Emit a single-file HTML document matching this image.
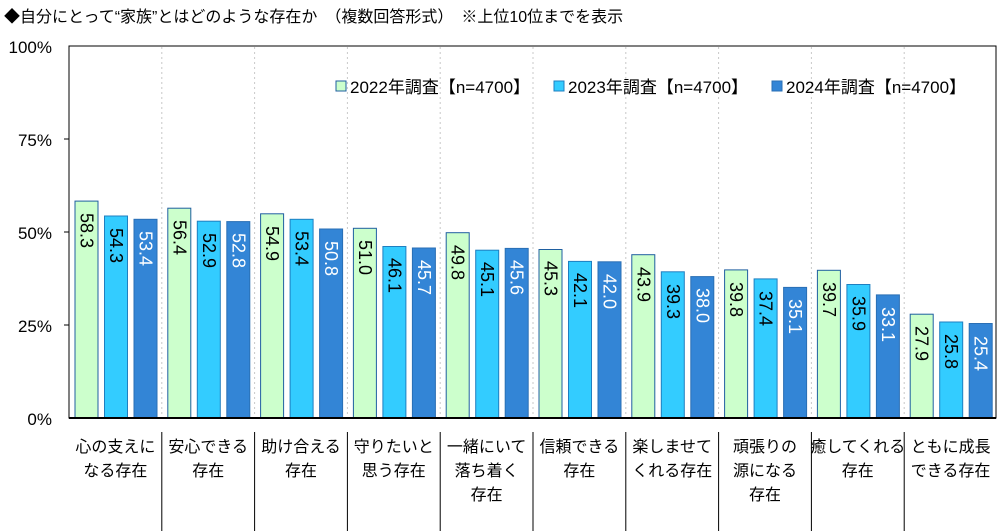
<!DOCTYPE html>
<html><head><meta charset="utf-8"><style>
html,body{margin:0;padding:0;background:#fff;}
svg{display:block;font-family:"Liberation Sans","Noto Sans CJK JP",sans-serif;}
</style></head><body>
<svg width="1000" height="531" viewBox="0 0 1000 531" xmlns="http://www.w3.org/2000/svg">
<rect width="1000" height="531" fill="#fff"/>
<text x="4" y="22" font-size="16" fill="#000">◆自分にとって“家族”とはどのような存在か　（複数回答形式）　※上位10位までを表示</text>
<g font-size="17" fill="#000" text-anchor="end">
<text x="52" y="53">100%</text>
<text x="52" y="146">75%</text>
<text x="52" y="239">50%</text>
<text x="52" y="332">25%</text>
<text x="52" y="425">0%</text>
</g>
<g stroke="#c8c8c8" stroke-width="1" stroke-dasharray="2,3">
<line x1="161.8" y1="47" x2="161.8" y2="417"/><line x1="254.6" y1="47" x2="254.6" y2="417"/><line x1="347.4" y1="47" x2="347.4" y2="417"/><line x1="440.2" y1="47" x2="440.2" y2="417"/><line x1="533" y1="47" x2="533" y2="417"/><line x1="625.8" y1="47" x2="625.8" y2="417"/><line x1="718.6" y1="47" x2="718.6" y2="417"/><line x1="811.4" y1="47" x2="811.4" y2="417"/><line x1="904.2" y1="47" x2="904.2" y2="417"/>
</g>
<g stroke="#000" stroke-width="1">
<line x1="161.8" y1="432" x2="161.8" y2="531"/><line x1="254.6" y1="432" x2="254.6" y2="531"/><line x1="347.4" y1="432" x2="347.4" y2="531"/><line x1="440.2" y1="432" x2="440.2" y2="531"/><line x1="533" y1="432" x2="533" y2="531"/><line x1="625.8" y1="432" x2="625.8" y2="531"/><line x1="718.6" y1="432" x2="718.6" y2="531"/><line x1="811.4" y1="432" x2="811.4" y2="531"/><line x1="904.2" y1="432" x2="904.2" y2="531"/>
</g>
<rect x="69" y="46" width="927" height="372" fill="none" stroke="#000" stroke-width="1"/>
<g stroke="#000" stroke-width="1"><line x1="64" y1="139" x2="69" y2="139"/><line x1="64" y1="232" x2="69" y2="232"/><line x1="64" y1="325" x2="69" y2="325"/></g>

<defs>
<style>
.a{fill:#ccffcc;stroke:#1f5fa0;stroke-width:1}
.b{fill:#33ccff;stroke:#1f7fc0;stroke-width:1}
.c{fill:#3385d6;stroke:#2a6fb5;stroke-width:1}
.t{font-size:18px;fill:#000}
.w{font-size:18px;fill:#fff}
</style>
</defs>

<g transform="translate(69,0)">
<rect class="a" x="6" y="201.1" width="23" height="216.9"/><rect class="b" x="35.5" y="216" width="23" height="202"/><rect class="c" x="65" y="219.3" width="23" height="198.7"/>
<text class="t" transform="translate(17.5,213) rotate(90)" dominant-baseline="central">58.3</text>
<text class="t" transform="translate(47,228) rotate(90)" dominant-baseline="central">54.3</text>
<text class="w" transform="translate(76.5,231) rotate(90)" dominant-baseline="central">53.4</text>
</g>
<g transform="translate(161.8,0)">
<rect class="a" x="6" y="208.2" width="23" height="209.8"/><rect class="b" x="35.5" y="221.2" width="23" height="196.8"/><rect class="c" x="65" y="221.6" width="23" height="196.4"/>
<text class="t" transform="translate(17.5,220) rotate(90)" dominant-baseline="central">56.4</text>
<text class="t" transform="translate(47,233) rotate(90)" dominant-baseline="central">52.9</text>
<text class="w" transform="translate(76.5,233) rotate(90)" dominant-baseline="central">52.8</text>
</g>
<g transform="translate(254.6,0)">
<rect class="a" x="6" y="213.8" width="23" height="204.2"/><rect class="b" x="35.5" y="219.3" width="23" height="198.7"/><rect class="c" x="65" y="229" width="23" height="189"/>
<text class="t" transform="translate(17.5,226) rotate(90)" dominant-baseline="central">54.9</text>
<text class="t" transform="translate(47,231) rotate(90)" dominant-baseline="central">53.4</text>
<text class="w" transform="translate(76.5,241) rotate(90)" dominant-baseline="central">50.8</text>
</g>
<g transform="translate(347.4,0)">
<rect class="a" x="6" y="228.3" width="23" height="189.7"/><rect class="b" x="35.5" y="246.5" width="23" height="171.5"/><rect class="c" x="65" y="248" width="23" height="170"/>
<text class="t" transform="translate(17.5,240) rotate(90)" dominant-baseline="central">51.0</text>
<text class="t" transform="translate(47,258) rotate(90)" dominant-baseline="central">46.1</text>
<text class="w" transform="translate(76.5,260) rotate(90)" dominant-baseline="central">45.7</text>
</g>
<g transform="translate(440.2,0)">
<rect class="a" x="6" y="232.7" width="23" height="185.3"/><rect class="b" x="35.5" y="250.2" width="23" height="167.8"/><rect class="c" x="65" y="248.4" width="23" height="169.6"/>
<text class="t" transform="translate(17.5,245) rotate(90)" dominant-baseline="central">49.8</text>
<text class="t" transform="translate(47,262) rotate(90)" dominant-baseline="central">45.1</text>
<text class="w" transform="translate(76.5,260) rotate(90)" dominant-baseline="central">45.6</text>
</g>
<g transform="translate(533,0)">
<rect class="a" x="6" y="249.5" width="23" height="168.5"/><rect class="b" x="35.5" y="261.4" width="23" height="156.6"/><rect class="c" x="65" y="261.8" width="23" height="156.2"/>
<text class="t" transform="translate(17.5,261) rotate(90)" dominant-baseline="central">45.3</text>
<text class="t" transform="translate(47,273) rotate(90)" dominant-baseline="central">42.1</text>
<text class="w" transform="translate(76.5,274) rotate(90)" dominant-baseline="central">42.0</text>
</g>
<g transform="translate(625.8,0)">
<rect class="a" x="6" y="254.7" width="23" height="163.3"/><rect class="b" x="35.5" y="271.8" width="23" height="146.2"/><rect class="c" x="65" y="276.6" width="23" height="141.4"/>
<text class="t" transform="translate(17.5,267) rotate(90)" dominant-baseline="central">43.9</text>
<text class="t" transform="translate(47,284) rotate(90)" dominant-baseline="central">39.3</text>
<text class="w" transform="translate(76.5,288) rotate(90)" dominant-baseline="central">38.0</text>
</g>
<g transform="translate(718.6,0)">
<rect class="a" x="6" y="269.9" width="23" height="148.1"/><rect class="b" x="35.5" y="278.9" width="23" height="139.1"/><rect class="c" x="65" y="287.4" width="23" height="130.6"/>
<text class="t" transform="translate(17.5,282) rotate(90)" dominant-baseline="central">39.8</text>
<text class="t" transform="translate(47,291) rotate(90)" dominant-baseline="central">37.4</text>
<text class="w" transform="translate(76.5,299) rotate(90)" dominant-baseline="central">35.1</text>
</g>
<g transform="translate(811.4,0)">
<rect class="a" x="6" y="270.3" width="23" height="147.7"/><rect class="b" x="35.5" y="284.5" width="23" height="133.5"/><rect class="c" x="65" y="294.9" width="23" height="123.1"/>
<text class="t" transform="translate(17.5,282) rotate(90)" dominant-baseline="central">39.7</text>
<text class="t" transform="translate(47,296) rotate(90)" dominant-baseline="central">35.9</text>
<text class="w" transform="translate(76.5,307) rotate(90)" dominant-baseline="central">33.1</text>
</g>
<g transform="translate(904.2,0)">
<rect class="a" x="6" y="314.2" width="23" height="103.8"/><rect class="b" x="35.5" y="322" width="23" height="96"/><rect class="c" x="65" y="323.5" width="23" height="94.5"/>
<text class="t" transform="translate(17.5,326) rotate(90)" dominant-baseline="central">27.9</text>
<text class="t" transform="translate(47,334) rotate(90)" dominant-baseline="central">25.8</text>
<text class="w" transform="translate(76.5,336) rotate(90)" dominant-baseline="central">25.4</text>
</g>

<line x1="69" y1="418" x2="996" y2="418" stroke="#000" stroke-width="2"/>

<g font-size="16" fill="#000" text-anchor="middle">
<text x="115.4" y="452">心の支えに</text><text x="115.4" y="476">なる存在</text>
<text x="208.2" y="452">安心できる</text><text x="208.2" y="476">存在</text>
<text x="301" y="452">助け合える</text><text x="301" y="476">存在</text>
<text x="393.8" y="452">守りたいと</text><text x="393.8" y="476">思う存在</text>
<text x="486.6" y="452">一緒にいて</text><text x="486.6" y="476">落ち着く</text><text x="486.6" y="500">存在</text>
<text x="579.4" y="452">信頼できる</text><text x="579.4" y="476">存在</text>
<text x="672.2" y="452">楽しませて</text><text x="672.2" y="476">くれる存在</text>
<text x="765" y="452">頑張りの</text><text x="765" y="476">源になる</text><text x="765" y="500">存在</text>
<text x="857.8" y="452">癒してくれる</text><text x="857.8" y="476">存在</text>
<text x="950.6" y="452">ともに成長</text><text x="950.6" y="476">できる存在</text>
</g>

<rect x="336" y="81" width="10" height="10" fill="#ccffcc" stroke="#1f5fa0" stroke-width="1"/>
<text x="350" y="93" font-size="17" fill="#000">2022年調査【n=4700】</text>
<rect x="554" y="81" width="10" height="10" fill="#33ccff" stroke="#1f7fc0" stroke-width="1"/>
<text x="568" y="93" font-size="17" fill="#000">2023年調査【n=4700】</text>
<rect x="772" y="81" width="10" height="10" fill="#3385d6" stroke="#2a6fb5" stroke-width="1"/>
<text x="786" y="93" font-size="17" fill="#000">2024年調査【n=4700】</text>
</svg>
</body></html>
